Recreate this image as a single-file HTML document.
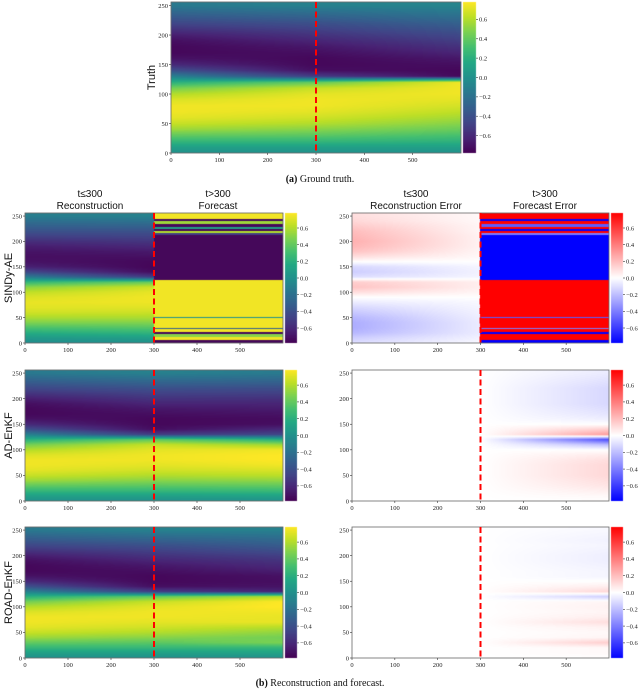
<!DOCTYPE html>
<html><head><meta charset="utf-8">
<style>
html,body{margin:0;padding:0;background:#fff;}
#wrap{position:relative;width:640px;height:692px;overflow:hidden;}
#heat{position:absolute;left:0;top:0;}
#ov{position:absolute;left:0;top:0;}
text{font-family:"Liberation Serif",serif;}
.sans{font-family:"Liberation Sans","DejaVu Sans",sans-serif;}
</style></head>
<body>
<div id="wrap">
<canvas id="heat" width="640" height="692"></canvas>
<svg id="ov" width="640" height="692" xmlns="http://www.w3.org/2000/svg"></svg>
</div>
<script>
// ---- data ----
const profileTimes=[0,300,600];
const rowY=[0,10,20,30,40,50,60,70,80,90,100,110,120,130,140,150,160,170,180,190,200,210,220,230,240,250];
const truthT0=[0.0,0.1,0.25,0.4,0.55,0.65,0.72,0.75,0.75,0.7,0.6,0.45,0.2,-0.1,-0.4,-0.6,-0.7,-0.75,-0.75,-0.72,-0.65,-0.55,-0.45,-0.35,-0.25,-0.15];
const truthT300=[0.0,0.1,0.25,0.38,0.5,0.6,0.67,0.72,0.75,0.75,0.72,0.65,0.4,-0.5,-0.72,-0.75,-0.75,-0.72,-0.68,-0.62,-0.55,-0.48,-0.4,-0.3,-0.2,-0.1];
const truthT600=[0.0,0.1,0.22,0.32,0.42,0.5,0.57,0.63,0.68,0.72,0.75,0.75,0.75,-0.75,-0.75,-0.72,-0.68,-0.62,-0.56,-0.5,-0.44,-0.37,-0.3,-0.22,-0.15,-0.08];
const sindyReconErrT0=[-0.1,-0.15,-0.22,-0.25,-0.25,-0.22,-0.17,-0.12,-0.06,0.0,0.1,0.18,0.15,-0.1,-0.15,-0.12,0.0,0.1,0.18,0.22,0.24,0.22,0.2,0.16,0.12,0.1];
const sindyReconErrT300=[-0.02,-0.04,-0.06,-0.06,-0.06,-0.05,-0.04,-0.03,-0.02,0.0,0.03,0.05,0.05,-0.03,-0.04,-0.03,0.0,0.02,0.03,0.04,0.04,0.04,0.03,0.03,0.02,0.02];
const adErrT600=[0.0,0.02,0.05,0.08,0.1,0.12,0.12,0.12,0.1,0.06,0.0,-0.2,-0.55,0.3,0.15,0.0,-0.05,-0.08,-0.1,-0.12,-0.12,-0.12,-0.12,-0.1,-0.08,-0.06];
const roadErrT600=[0.0,0.02,0.02,0.15,0.03,0.02,0.04,0.1,0.05,0.03,0.04,0.03,-0.15,0.12,0.05,0.0,-0.03,-0.03,-0.04,-0.05,-0.05,-0.04,-0.03,-0.04,-0.03,-0.02];
const zeroProfile=[0,0,0,0,0,0,0,0,0,0,0,0,0,0,0,0,0,0,0,0,0,0,0,0,0,0];
const bandStart=[245,240,234,229,225,221,217,213,125,52,50,30,27,22,18,12,6,0];
const bandEnd=[256,245,240,234,229,225,221,217,213,125,52,50,30,27,22,18,12,6];
const bandValue=[0.75,-0.75,0.55,-0.75,0.1,-0.75,0.6,-0.5,-0.75,0.75,0.0,0.75,-0.3,0.75,-0.75,0.5,0.75,-0.75];
const bandErr=[0.8,-0.8,0.8,-0.5,0.8,-0.8,0.8,-0.4,-0.8,0.8,-0.5,0.8,-0.4,0.8,-0.8,0.8,0.8,-0.8];
const xTicks=[0,100,200,300,400,500];
const yTicks=[0,50,100,150,200,250];
const cbTicks=[0.6,0.4,0.2,0.0,-0.2,-0.4,-0.6];
const rowNames=["SINDy-AE","AD-EnKF","ROAD-EnKF"];
const splitTime=300;
// ---- helpers ----
const VMIN=-0.78,VMAX=0.78,TMAX=600,YMAX=256;
function interpProfile(p,y){
  if(y<=rowY[0])return p[0];
  for(let i=0;i<rowY.length-1;i++){if(y<=rowY[i+1]){const f=(y-rowY[i])/(rowY[i+1]-rowY[i]);return p[i]*(1-f)+p[i+1]*f;}}
  return p[p.length-1];
}
function field(profs,t,y){
  for(let i=0;i<profileTimes.length-1;i++){
    if(t<=profileTimes[i+1]){const f=(t-profileTimes[i])/(profileTimes[i+1]-profileTimes[i]);return interpProfile(profs[i],y)*(1-f)+interpProfile(profs[i+1],y)*f;}
  }
  return interpProfile(profs[profs.length-1],y);
}
const truthProfs=[truthT0,truthT300,truthT600];
const truth=(t,y)=>field(truthProfs,t,y);
function bandIdx(y){for(let i=0;i<bandStart.length;i++){if(y>=bandStart[i]&&y<bandEnd[i])return i;}return -1;}
function band(y){const i=bandIdx(y);return i<0?0:bandValue[i];}
function bandE(y){const i=bandIdx(y);return i<0?0:bandErr[i];}
const sindyErrProfs=[sindyReconErrT0,sindyReconErrT300,sindyReconErrT300];
const adErrProfs=[zeroProfile,zeroProfile,adErrT600];
const roadErrProfs=[zeroProfile,zeroProfile,roadErrT600];
function sindyErr(t,y){return t<splitTime?field(sindyErrProfs,t,y):bandE(y);}
function sindyEst(t,y){return t<splitTime?truth(t,y)+field(sindyErrProfs,t,y)*0.3:band(y);}
const adErr=(t,y)=>field(adErrProfs,t,y);
const roadErr=(t,y)=>field(roadErrProfs,t,y);
const adEst=(t,y)=>truth(t,y)+adErr(t,y);
const roadEst=(t,y)=>truth(t,y)+roadErr(t,y);
const vir=[[68,1,84],[72,36,117],[65,68,135],[53,95,141],[42,120,142],[33,145,140],[34,168,132],[68,191,112],[122,209,81],[189,223,38],[253,231,37]];
function viridis(v){let s=(v-VMIN)/(VMAX-VMIN);s=Math.max(0,Math.min(1,s))*10;const i=Math.min(9,Math.floor(s)),f=s-i;return vir[i].map((c,k)=>c*(1-f)+vir[i+1][k]*f);}
function bwr(v){let s=(v-VMIN)/(VMAX-VMIN);s=Math.max(0,Math.min(1,s));if(s<0.5){const f=s/0.5;return [255*f,255*f,255];}const f=(s-0.5)/0.5;return [255,255*(1-f),255*(1-f)];}
// ---- layout ----
const panels=[
 {name:"truth",x0:171,x1:461,y0:2,y1:153,cb:463,cbw:13,fn:truth,cmap:viridis,ylabel:"Truth",ylx:152},
 {name:"sindy-recon",x0:25,x1:283,y0:213,y1:343,cb:285,cbw:12,fn:sindyEst,cmap:viridis,ylabel:rowNames[0],ylx:9},
 {name:"sindy-error",x0:352,x1:609,y0:213,y1:343,cb:611,cbw:12,fn:sindyErr,cmap:bwr},
 {name:"adenkf-recon",x0:25,x1:283,y0:370,y1:501,cb:285,cbw:12,fn:adEst,cmap:viridis,ylabel:rowNames[1],ylx:9},
 {name:"adenkf-error",x0:352,x1:609,y0:370,y1:501,cb:611,cbw:12,fn:adErr,cmap:bwr},
 {name:"roadenkf-recon",x0:25,x1:283,y0:527,y1:658,cb:285,cbw:12,fn:roadEst,cmap:viridis,ylabel:rowNames[2],ylx:9},
 {name:"roadenkf-error",x0:352,x1:609,y0:527,y1:658,cb:611,cbw:12,fn:roadErr,cmap:bwr}
];
const ctx=document.getElementById('heat').getContext('2d');
const svg=document.getElementById('ov');
const NS="http://www.w3.org/2000/svg";
function mk(tag,attrs,parent){const e=document.createElementNS(NS,tag);for(const k in attrs)e.setAttribute(k,attrs[k]);(parent||svg).appendChild(e);return e;}
function fmt(v){return (v<0?"\u2212":"")+Math.abs(v).toFixed(1);}
panels.forEach(p=>{
  const w=p.x1-p.x0,h=p.y1-p.y0;
  const xs=t=>p.x0+t/TMAX*w, ys=y=>p.y1-y/YMAX*h;
  const img=ctx.createImageData(w,h);
  for(let j=0;j<h;j++){const y=(h-j-0.5)/h*YMAX;for(let i=0;i<w;i++){const t=(i+0.5)/w*TMAX;const c=p.cmap(p.fn(t,y));const o=(j*w+i)*4;img.data[o]=c[0];img.data[o+1]=c[1];img.data[o+2]=c[2];img.data[o+3]=255;}}
  ctx.putImageData(img,p.x0,p.y0);
  const cimg=ctx.createImageData(p.cbw,h);
  for(let j=0;j<h;j++){const v=VMAX-(j+0.5)/h*(VMAX-VMIN);const c=p.cmap(v);for(let i=0;i<p.cbw;i++){const o=(j*p.cbw+i)*4;cimg.data[o]=c[0];cimg.data[o+1]=c[1];cimg.data[o+2]=c[2];cimg.data[o+3]=255;}}
  ctx.putImageData(cimg,p.cb,p.y0);
  const g=mk('g',{});
  
  
  const fr=mk('rect',{x:p.x0,y:p.y0,width:w,height:h,fill:'none',stroke:'#666','stroke-width':0.8},g);
  
  
  const dl=mk('line',{x1:xs(splitTime),x2:xs(splitTime),y1:p.y0,y2:p.y1,stroke:'#f00','stroke-width':2,'stroke-dasharray':'6,3.5'},g);
  
  
  xTicks.forEach(t=>{
    mk('line',{x1:xs(t),x2:xs(t),y1:p.y1,y2:p.y1+2,stroke:'#333','stroke-width':0.6},g);
    const tx=mk('text',{x:xs(t),y:p.y1+9,'font-size':6.5,'text-anchor':'middle',fill:'#222'},g);
    tx.textContent=t;
    
    
  });
  yTicks.forEach(v=>{
    mk('line',{x1:p.x0-2,x2:p.x0,y1:ys(v),y2:ys(v),stroke:'#333','stroke-width':0.6},g);
    const tx=mk('text',{x:p.x0-3,y:ys(v)+2.3,'font-size':6.5,'text-anchor':'end',fill:'#222'},g);
    tx.textContent=v;
    
    
  });
  const cbx=p.cb+p.cbw;
  cbTicks.forEach(v=>{
    const yy=p.y1-(v-VMIN)/(VMAX-VMIN)*h;
    mk('line',{x1:cbx,x2:cbx+2,y1:yy,y2:yy,stroke:'#333','stroke-width':0.6},g);
    const tx=mk('text',{x:cbx+3,y:yy+2.3,'font-size':6.5,fill:'#222'},g);
    tx.textContent=fmt(v);
    
    
  });
  if(p.ylabel){
    const cy=(p.y0+p.y1)/2;
    const tx=mk('text',{x:p.ylx,y:cy,'font-size':11,'text-anchor':'middle',class:'sans',transform:`rotate(-90 ${p.ylx} ${cy})`,'dominant-baseline':'middle',fill:'#111'},g);
    tx.textContent=p.ylabel;
    
    
  }
});
// column titles
const titles=[[90,"t\u2264300","Reconstruction"],[218,"t>300","Forecast"],[416,"t\u2264300","Reconstruction Error"],[545,"t>300","Forecast Error"]];
titles.forEach(tt=>{
  const a=mk('text',{x:tt[0],y:197,'font-size':10,'text-anchor':'middle',class:'sans',fill:'#111'});a.textContent=tt[1];
  
  
  const b=mk('text',{x:tt[0],y:209,'font-size':10,'text-anchor':'middle',class:'sans',fill:'#111'});b.textContent=tt[2];
  
  
});
const ca=mk('text',{x:320,y:182,'font-size':10,'text-anchor':'middle',fill:'#111'});
ca.innerHTML='<tspan font-weight="bold">(a)</tspan> Ground truth.';


const cb=mk('text',{x:320,y:686,'font-size':10,'text-anchor':'middle',fill:'#111'});
cb.innerHTML='<tspan font-weight="bold">(b)</tspan> Reconstruction and forecast.';


</script>
</body></html>
